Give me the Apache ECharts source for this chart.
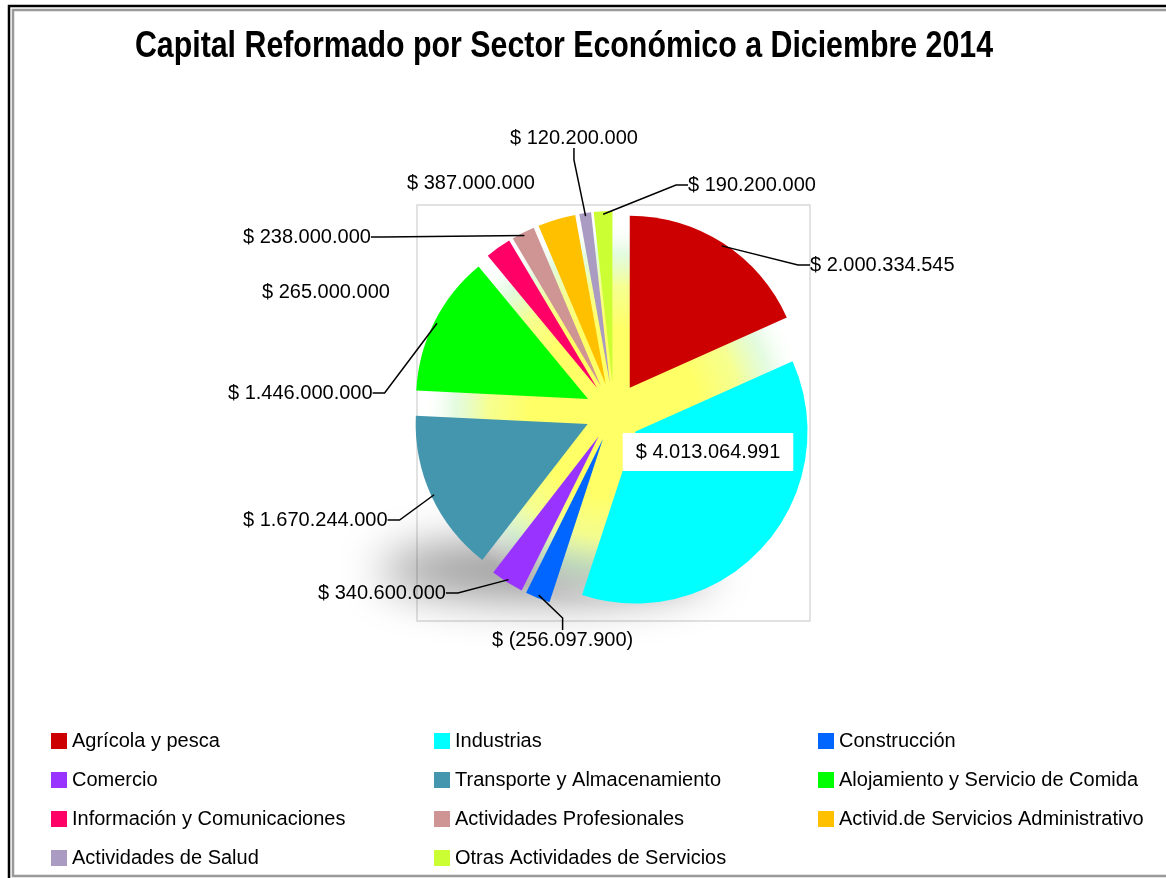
<!DOCTYPE html>
<html>
<head>
<meta charset="utf-8">
<script src="https://cdn.jsdelivr.net/npm/echarts@6/dist/echarts.min.js"></script>
<style>
  html, body { margin: 0; padding: 0; background: #fff; }
  #chart { width: 1166px; height: 878px; }
</style>
</head>
<body>
<div id="chart"></div>
<script>
  // data
  const sectors = [
    'Agrícola y pesca', 'Industrias', 'Construcción',
    'Comercio', 'Transporte y Almacenamiento', 'Alojamiento y Servicio de Comida',
    'Información y Comunicaciones', 'Actividades Profesionales', 'Activid.de Servicios Administrativo',
    'Actividades de Salud', 'Otras Actividades de Servicios'
  ];
  const capital = [
    2000334545, 4013064991, -256097900,
    340600000, 1670244000, 1446000000,
    265000000, 238000000, 387000000,
    120200000, 190200000
  ];
  const colors = [
    '#cc0000', '#00ffff', '#0066ff',
    '#9933ff', '#4396ae', '#00ff00',
    '#ff0066', '#cf9494', '#ffc000',
    '#a99bc2', '#ccff33'
  ];
  const legendCols = [[0, 3, 6, 9], [1, 4, 7, 10], [2, 5, 8]];

  // where Excel put each data label (x, y, align)
  const labelSpots = [
    [810, 265, 'left'], [708, 452, 'center'], [492, 640, 'left'],
    [318, 593, 'left'], [243, 520, 'left'], [228, 393, 'left'],
    [262, 292, 'left'], [243, 237, 'left'], [407, 183, 'left'],
    [510, 138, 'left'], [688, 185, 'left']
  ];
  const noLine = [1, 6, 8];

  const center = [614, 412];
  const radius = 172;
  const explode = 29;

  function money (v) {
    const s = Math.abs(v).toString().replace(/\B(?=(\d{3})+(?!\d))/g, '.');
    return v < 0 ? '$ (' + s + ')' : '$ ' + s;
  }

  // visible, exploded slices
  const pieData = sectors.map(function (name, i) {
    return {
      name: name,
      value: Math.abs(capital[i]),
      selected: true,
      itemStyle: { color: colors[i] }
    };
  });
  // invisible carrier for the data labels (same angles, radius out to the exploded rim)
  const labelData = sectors.map(function (name, i) {
    const item = { name: name, value: Math.abs(capital[i]) };
    if (noLine.indexOf(i) >= 0) item.labelLine = { show: false };
    if (i === 1) item.label = { backgroundColor: '#fff', padding: [9, 13] };
    return item;
  });

  const chart = echarts.init(document.getElementById('chart'));
  const option = {
    animation: false,
    legend: legendCols.map(function (col, c) {
      return {
        orient: 'vertical',
        left: [51, 434, 818][c],
        top: 729,
        padding: 0,
        icon: 'rect',
        itemWidth: 16,
        itemHeight: 16,
        itemGap: 15,
        selectedMode: false,
        data: col.map(function (i) { return sectors[i]; }),
        textStyle: {
          fontFamily: 'Liberation Sans',
          fontSize: 20,
          lineHeight: 24,
          color: '#000'
        }
      };
    }),
    graphic: [
      // outer frame (black + grey)
      { type: 'rect', z: 0, silent: true, shape: { x: 9, y: 6, width: 1180, height: 900 },
        style: { fill: null, stroke: '#000', lineWidth: 2.5 } },
      { type: 'rect', z: 0, silent: true, shape: { x: 13, y: 10, width: 1180, height: 866 },
        style: { fill: null, stroke: '#999', lineWidth: 2.5 } },
      // plot area
      { type: 'rect', z: 0, silent: true, shape: { x: 417, y: 205, width: 393, height: 416 },
        style: { fill: null, stroke: '#d9d9d9', lineWidth: 1.5 } },
      // soft perspective shadow under the pie (shape kept off canvas, only its shadow shows)
      { type: 'ellipse', z: 0, silent: true, shape: { cx: 545 - 3000, cy: 570, rx: 165, ry: 30 },
        style: { fill: '#000', shadowColor: 'rgba(0,0,0,0.4)', shadowBlur: 45, shadowOffsetX: 3000 } },
      // yellow glow behind the slices
      { type: 'circle', z: 1, silent: true, shape: { cx: center[0], cy: center[1], r: 210 },
        style: {
          fill: {
            type: 'radial', x: center[0], y: center[1], r: 210, global: true,
            colorStops: [
              { offset: 0, color: 'rgba(255,255,102,1)' },
              { offset: 0.4, color: 'rgba(255,255,102,1)' },
              { offset: 0.6, color: 'rgba(245,255,135,0.92)' },
              { offset: 0.76, color: 'rgba(205,248,200,0.55)' },
              { offset: 0.92, color: 'rgba(255,255,255,0)' }
            ]
          }
        } },
      // title, Calibri-like condensed bold
      { type: 'text', z: 5, silent: true, x: 564, y: 47, scaleX: 0.82,
        style: {
          text: 'Capital Reformado por Sector Económico a Diciembre 2014',
          font: 'bold 37px "Liberation Sans"',
          fill: '#000',
          textAlign: 'center',
          textVerticalAlign: 'middle'
        } }
    ],
    series: [
      {
        name: 'Capital',
        type: 'pie',
        z: 3,
        silent: true,
        center: center,
        radius: radius,
        startAngle: 90,
        selectedMode: 'multiple',
        selectedOffset: explode,
        emphasis: { disabled: true },
        select: { itemStyle: { borderWidth: 0 } },
        itemStyle: { borderWidth: 0 },
        label: { show: false },
        labelLine: { show: false },
        data: pieData
      },
      {
        name: 'etiquetas',
        type: 'pie',
        z: 4,
        silent: true,
        center: center,
        radius: radius + explode - 3,
        startAngle: 90,
        avoidLabelOverlap: false,
        emphasis: { disabled: true },
        itemStyle: { color: 'rgba(0,0,0,0)', borderWidth: 0 },
        label: {
          show: true,
          position: 'outside',
          formatter: function (p) { return money(capital[p.dataIndex]); },
          fontFamily: 'Liberation Sans',
          fontSize: 20,
          color: '#000'
        },
        labelLine: {
          show: true,
          length: 12,
          length2: 12,
          smooth: false,
          lineStyle: { color: '#000', width: 1.5 }
        },
        labelLayout: function (params) {
          const s = labelSpots[params.dataIndex];
          return { x: s[0], y: s[1], align: s[2], verticalAlign: 'middle' };
        },
        data: labelData
      }
    ]
  };
  chart.setOption(option);
  window.addEventListener('resize', function () {
    chart.resize();
  });
</script>
</body>
</html>
